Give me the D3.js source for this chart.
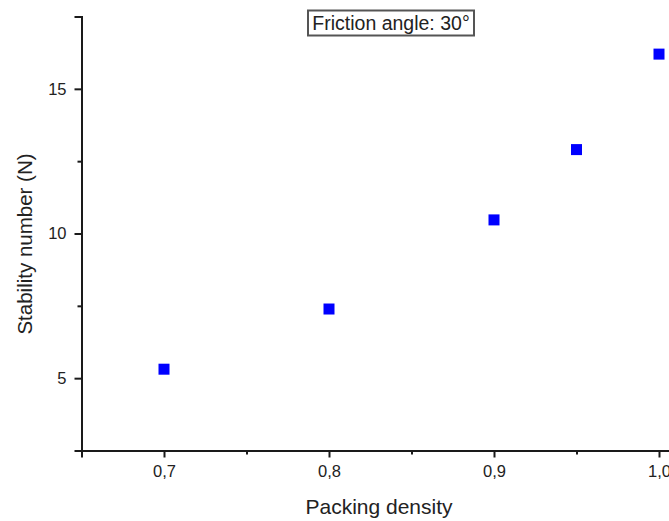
<!DOCTYPE html>
<html>
<head>
<meta charset="utf-8">
<script src="https://cdn.jsdelivr.net/npm/d3@7"></script>
<style>
  html, body { margin: 0; padding: 0; background: #fff; }
  svg { display: block; }
  text { font-family: "Liberation Sans", Arial, sans-serif; fill: #222; }
</style>
</head>
<body>
<svg id="chart" width="669" height="521"></svg>
<script>
const packingDensity = [0.7, 0.8, 0.9, 0.95, 1.0];
const stabilityNumber = [5.31, 7.39, 10.47, 12.9, 16.2];
const xMajorTicks = [0.7, 0.8, 0.9, 1.0];
const xMinorTicks = [0.65, 0.75, 0.85, 0.95, 1.05];
const yMajorTicks = [5, 10, 15];
const yMinorTicks = [2.5, 7.5, 12.5, 17.5];
const xTitle = "Packing density";
const yTitle = "Stability number (N)";
const legendText = "Friction angle: 30°";

const svg = d3.select("#chart");

const x = d3.scaleLinear().domain([0.65, 1.05]).range([81.5, 741.5]);
const y = d3.scaleLinear().domain([2.5, 17.5]).range([450.5, 16.5]);

const fmtX = d => d3.format(".1f")(d).replace(".", ",");

// X axis
const xAxisMajor = d3.axisBottom(x).tickValues(xMajorTicks).tickSize(7).tickPadding(8).tickFormat(fmtX);
const xAxisMinor = d3.axisBottom(x).tickValues(xMinorTicks).tickSize(4).tickFormat("");
svg.append("g").attr("transform", `translate(0,${y.range()[0]})`).call(xAxisMajor);
svg.append("g").attr("transform", `translate(0,${y.range()[0]})`).call(xAxisMinor)
  .select(".domain").remove();

// Y axis
const yAxisMajor = d3.axisLeft(y).tickValues(yMajorTicks).tickSize(7).tickPadding(8).tickFormat(d3.format("d"));
const yAxisMinor = d3.axisLeft(y).tickValues(yMinorTicks).tickSize(4).tickFormat("");
svg.append("g").attr("transform", `translate(${x.range()[0]},0)`).call(yAxisMajor);
svg.append("g").attr("transform", `translate(${x.range()[0]},0)`).call(yAxisMinor)
  .select(".domain").remove();

svg.selectAll(".domain").attr("stroke", "#1a1a1a").attr("stroke-width", 2);
svg.selectAll(".tick line").attr("stroke", "#1a1a1a").attr("stroke-width", 2);
svg.selectAll(".tick text").attr("font-size", 16.5).attr("fill", "#2a2a2a")
  .attr("font-family", "'Liberation Sans', Arial, sans-serif");

// Axis titles
svg.append("text")
  .attr("x", 379).attr("y", 514)
  .attr("text-anchor", "middle")
  .attr("font-size", 21)
  .text(xTitle);

svg.append("text")
  .attr("transform", `translate(32,244) rotate(-90)`)
  .attr("text-anchor", "middle")
  .attr("font-size", 20.5)
  .text(yTitle);

// Points
const sz = 11;
svg.append("g").selectAll("rect")
  .data(packingDensity.map((d, i) => ({x: d, y: stabilityNumber[i]})))
  .join("rect")
  .attr("x", d => x(d.x) - sz / 2)
  .attr("y", d => y(d.y) - sz / 2)
  .attr("width", sz).attr("height", sz)
  .attr("fill", "#0000ff");

// Legend box
const lg = svg.append("g");
lg.append("rect")
  .attr("x", 308).attr("y", 10.5)
  .attr("width", 166).attr("height", 25)
  .attr("fill", "#fff")
  .attr("stroke", "#555")
  .attr("stroke-width", 2);
lg.append("text")
  .attr("x", 391).attr("y", 30)
  .attr("text-anchor", "middle")
  .attr("font-size", 19.5)
  .attr("fill", "#111")
  .text(legendText);
</script>
</body>
</html>
